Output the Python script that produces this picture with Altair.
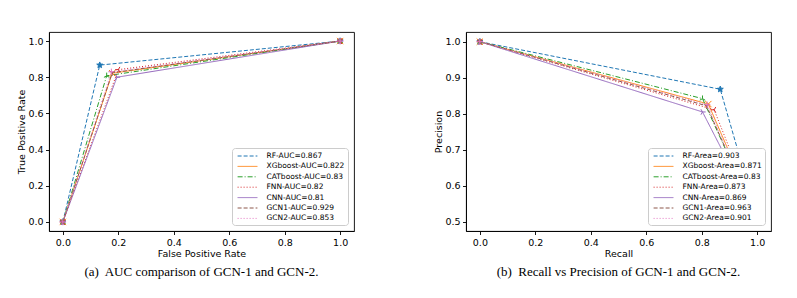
import math
import altair as alt
import pandas as pd

# ---------------- data ----------------
models = ["RF", "XGboost", "CATboost", "FNN", "CNN", "GCN1", "GCN2"]
auc_values = ["0.867", "0.822", "0.83", "0.82", "0.81", "0.929", "0.853"]
area_values = ["0.903", "0.871", "0.83", "0.873", "0.869", "0.963", "0.901"]

# ROC curves: (0,0) -> knee -> (1,1)
fpr_knee = [0.133, 0.178, 0.158, 0.200, 0.195, 0.178, 0.175]
tpr_knee = [0.867, 0.822, 0.808, 0.842, 0.800, 0.825, 0.830]

# Precision-recall curves: (0,1) -> knee -> (1,end)
recall_knee = [0.867, 0.824, 0.803, 0.845, 0.803, 0.818, 0.820]
precision_knee = [0.868, 0.827, 0.842, 0.811, 0.805, 0.822, 0.825]
precision_end = [0.512, 0.515, 0.508, 0.510, 0.510, 0.505, 0.506]

x_ticks = [0.0, 0.2, 0.4, 0.6, 0.8, 1.0]
roc_y_ticks = [0.0, 0.2, 0.4, 0.6, 0.8, 1.0]
pr_y_ticks = [0.5, 0.6, 0.7, 0.8, 0.9, 1.0]

# ---------------- styles ----------------
colors = ["#1f77b4", "#ff7f0e", "#2ca02c", "#d62728", "#9467bd", "#8c564b", "#e377c2"]
dashes = [[4, 2], [1, 0], [5, 2, 1, 2], [1, 2], [1, 0], [4, 2], [1, 2]]


def star_path():
    pts = []
    for i in range(10):
        r = 1.0 if i % 2 == 0 else 0.42
        a = -math.pi / 2 + i * math.pi / 5
        pts.append((r * math.cos(a), r * math.sin(a)))
    return "M" + "L".join(f"{x:.3f},{y:.3f}" for x, y in pts) + "Z"


shapes = [
    star_path(),
    "M-1,-1L1,1M-1,1L1,-1",
    "M0,0L0,-1M0,0L-0.866,0.5M0,0L0.866,0.5",
    "M0,0L-1,0M0,0L0.5,-0.866M0,0L0.5,0.866",
    "M0,0L1,0M0,0L-0.5,-0.866M0,0L-0.5,0.866",
    "M0,0L0,1M0,0L-0.866,-0.5M0,0L0.866,-0.5",
    "M-1,0L1,0M0,-1L0,1",
]

FONT = "DejaVu Sans"
LEGEND_LINE = "M-2.2,0L2.2,0"

roc_labels = [f"{m}-AUC={v}" for m, v in zip(models, auc_values)]
pr_labels = [f"{m}-Area={v}" for m, v in zip(models, area_values)]

roc_rows = []
pr_rows = []
for i, m in enumerate(models):
    for step, (fx, ty) in enumerate([(0.0, 0.0), (fpr_knee[i], tpr_knee[i]), (1.0, 1.0)]):
        roc_rows.append({"label": roc_labels[i], "mk": m, "order": i, "step": step, "x": fx, "y": ty})
    for step, (rx, py) in enumerate([(0.0, 1.0), (recall_knee[i], precision_knee[i]), (1.0, precision_end[i])]):
        pr_rows.append({"label": pr_labels[i], "mk": m, "order": i, "step": step, "x": rx, "y": py})

roc_df = pd.DataFrame(roc_rows)
pr_df = pd.DataFrame(pr_rows)


def panel(df, labels, xdomain, ydomain, yticks, xtitle, ytitle, caption):
    xs = alt.X("x:Q", scale=alt.Scale(domain=xdomain, nice=False, zero=False),
               axis=alt.Axis(values=x_ticks, format=".1f", title=xtitle))
    ys = alt.Y("y:Q", scale=alt.Scale(domain=ydomain, nice=False, zero=False),
               axis=alt.Axis(values=yticks, format=".1f", title=ytitle))
    cscale = alt.Scale(domain=labels, range=colors)
    leg = alt.Legend(orient="bottom-right", symbolType=LEGEND_LINE)
    lines = alt.Chart(df).mark_line(strokeWidth=1, clip=True).encode(
        x=xs, y=ys,
        order="step:Q",
        color=alt.Color("label:N", scale=cscale, title=None, legend=leg),
        strokeDash=alt.StrokeDash("label:N", scale=alt.Scale(domain=labels, range=dashes),
                                  title=None, legend=leg),
        detail="order:N",
    )
    points = alt.Chart(df).mark_point(size=40, strokeWidth=1, opacity=1, clip=True).encode(
        x=xs, y=ys,
        shape=alt.Shape("mk:N", scale=alt.Scale(domain=models, range=shapes), legend=None),
        fill=alt.Fill("mk:N", scale=alt.Scale(domain=models, range=colors), legend=None),
        stroke=alt.Stroke("mk:N", scale=alt.Scale(domain=models, range=colors), legend=None),
    )
    return alt.layer(lines, points).properties(
        width=305, height=199,
        title=alt.TitleParams(caption, orient="bottom", font="Liberation Serif", fontSize=13,
                              fontWeight="normal", color="black", anchor="middle", offset=8),
    )


left = panel(roc_df, roc_labels, [-0.05, 1.05], [-0.05, 1.05], roc_y_ticks,
             "False Positive Rate", "True Positive Rate",
             "(a)\u00a0 AUC comparison of GCN-1 and GCN-2.")
right = panel(pr_df, pr_labels, [-0.05, 1.05], [0.4745, 1.027], pr_y_ticks,
              "Recall", "Precision",
              "(b)\u00a0 Recall vs Precision of GCN-1 and GCN-2.")

chart = alt.hconcat(left, right, spacing=77).resolve_scale(
    color="independent", strokeDash="independent", shape="independent",
    fill="independent", stroke="independent",
).resolve_legend(color="independent", strokeDash="independent").properties(
    padding={"left": 7, "top": 23, "right": 5, "bottom": 5},
    background="white",
).configure_view(
    stroke="black", strokeWidth=0.9,
).configure_axis(
    labelFont=FONT, labelFontSize=9.5, labelColor="black",
    titleFont=FONT, titleFontSize=9.5, titleColor="black", titleFontWeight="normal",
    domainColor="black", tickColor="black", tickSize=3.5, labelPadding=2.5,
    titlePadding=1.5, grid=False, domainWidth=0.9, tickWidth=0.9,
).configure_legend(
    labelFont=FONT, labelFontSize=7.5, labelColor="black",
    strokeColor="#cccccc", fillColor="white", cornerRadius=3, padding=3,
    offset=6, symbolSize=81, symbolStrokeWidth=1, rowPadding=1.4, labelOffset=14,
    symbolOffset=7.5,
)

chart.save("out.html", embed_options={"renderer": "svg", "actions": False})
